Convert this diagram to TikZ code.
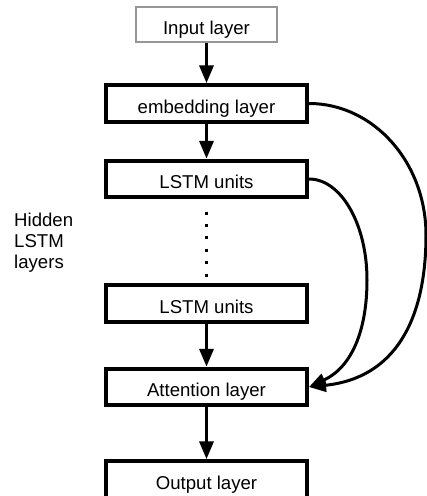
\documentclass[tikz,border=0pt]{standalone}
\usepackage{fontspec}
\setmainfont{Liberation Sans}
\usetikzlibrary{arrows.meta}
\definecolor{inputgray}{RGB}{150,150,150}
\tikzset{
  layerbox/.style={draw=black, line width=4pt, minimum width=201pt, minimum height=36.5pt,
    inner sep=0pt, text height=19pt, text depth=0pt, fill=white},
  inputbox/.style={draw=inputgray, line width=1.8pt, minimum width=141pt, minimum height=35.5pt,
    inner sep=0pt, text height=19pt, text depth=0pt, fill=white},
  flow/.style={line width=3.5pt, -{Triangle[length=18pt,width=14pt]}},
  skip/.style={line width=3pt, -{Triangle[length=17pt,width=13pt]}},
  dots/.style={line width=3pt, dash pattern=on 3pt off 9.4pt},
}
\begin{document}
\begin{tikzpicture}[x=1pt, y=-1pt, font=\fontsize{18.6}{21}\selectfont]
\useasboundingbox (0,0) rectangle (427,496);

% layer stack
\node[inputbox] (input) at (206.5,24.5) {Input layer};
\node[layerbox] (emb)   at (206.5,103.5) {embedding layer};
\node[layerbox] (lstma) at (206.5,179) {LSTM units};
\node[layerbox] (lstmb) at (206.5,303.5) {LSTM units};
\node[layerbox] (att)   at (206.5,387) {Attention layer};
\node[layerbox] (out)   at (206.5,479.5) {Output layer};

% label for the elided stack (base anchor sits on the last line)
\node[anchor=base west, align=left, inner sep=0pt] (hidden) at (14,268)
  {Hidden\\LSTM\\layers};

% main flow
\draw[flow] (input) -- (emb);
\draw[flow] (emb) -- (lstma);
\draw[flow] (lstmb) -- (att);
\draw[flow] (att) -- (out);

% elided hidden layers
\draw[dots, shorten <=12.25pt, shorten >=6.75pt] (lstma.south) -- (lstmb.north);

% skip connections into the attention layer
\draw[skip] (emb.east) .. controls (373.6,103.5) and (426,162.4) .. (426,235)
  .. controls (426,320) and (395,378) .. (att.east);
\draw[skip] (lstma.east) .. controls (341,179) and (367,224) .. (367,280)
  .. controls (367,330) and (352,367) .. (att.east);
\end{tikzpicture}
\end{document}
